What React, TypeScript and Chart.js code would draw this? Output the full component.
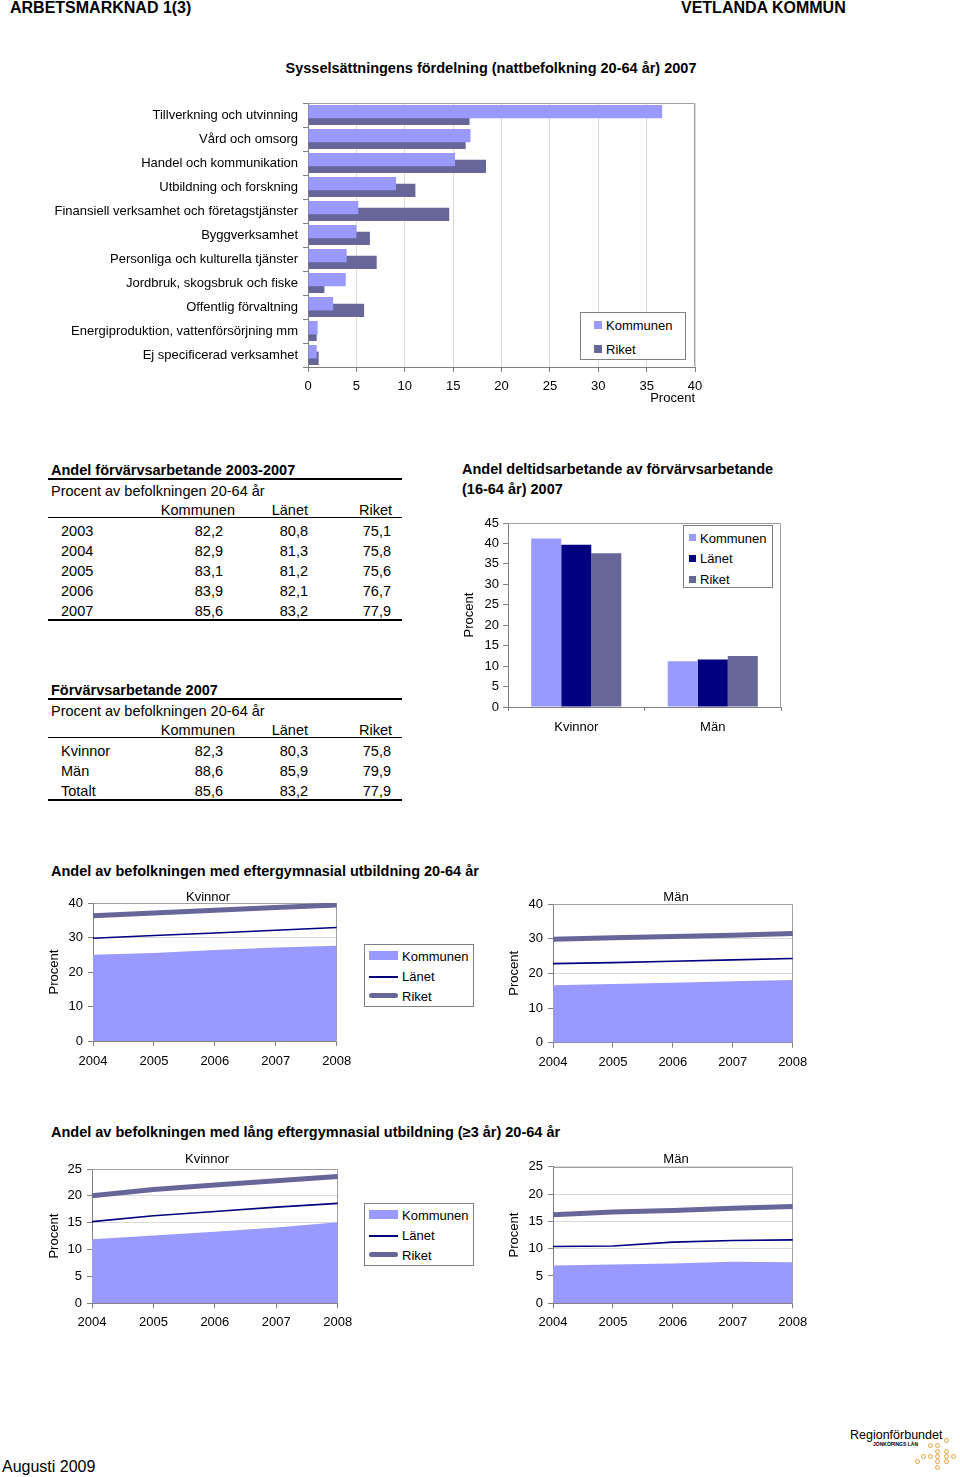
import React, { useEffect, useRef } from 'react';
import { Chart, registerables } from 'chart.js';
Chart.register(...registerables);

const FONT = '"Liberation Sans", Arial, Helvetica, sans-serif';
Chart.defaults.font.family = FONT;
Chart.defaults.font.size = 13;
Chart.defaults.color = '#000';

const C_KOMMUN = '#9999FF';
const C_LANET = '#000080';
const C_RIKET = '#666699';
const AXIS = '#808080';
const FRAME = '#a0a0a0';
const GRID = '#d9d9d9';

// ---- Sysselsättningens fördelning ----
const sectorLabels = [
  'Tillverkning och utvinning',
  'Vård och omsorg',
  'Handel och kommunikation',
  'Utbildning och forskning',
  'Finansiell verksamhet och företagstjänster',
  'Byggverksamhet',
  'Personliga och kulturella tjänster',
  'Jordbruk, skogsbruk och fiske',
  'Offentlig förvaltning',
  'Energiproduktion, vattenförsörjning mm',
  'Ej specificerad verksamhet',
];
const sectorKommunen = [36.6, 16.8, 15.2, 9.1, 5.2, 5.0, 4.0, 3.9, 2.6, 1.0, 0.9];
const sectorRiket = [16.7, 16.3, 18.4, 11.1, 14.6, 6.4, 7.1, 1.7, 5.8, 0.9, 1.1];

// ---- Tables ----
const tableYears = ['2003', '2004', '2005', '2006', '2007'];
const empKommunen = [82.2, 82.9, 83.1, 83.9, 85.6];
const empLanet = [80.8, 81.3, 81.2, 82.1, 83.2];
const empRiket = [75.1, 75.8, 75.6, 76.7, 77.9];

const genderRows = ['Kvinnor', 'Män', 'Totalt'];
const genKommunen = [82.3, 88.6, 85.6];
const genLanet = [80.3, 85.9, 83.2];
const genRiket = [75.8, 79.9, 77.9];

// ---- Deltidsarbetande ----
const partCategories = ['Kvinnor', 'Män'];
const partKommunen = [41.2, 11.2];
const partLanet = [39.7, 11.6];
const partRiket = [37.6, 12.5];

// ---- Eftergymnasial utbildning ----
const eduYears = ['2004', '2005', '2006', '2007', '2008'];
const eduWomenKommunen = [25.0, 25.5, 26.4, 27.1, 27.6];
const eduWomenLanet = [29.8, 30.6, 31.3, 32.1, 32.9];
const eduWomenRiket = [36.3, 37.1, 37.9, 38.7, 39.4];
const eduMenKommunen = [16.6, 16.9, 17.3, 17.7, 18.1];
const eduMenLanet = [22.8, 23.1, 23.5, 23.9, 24.3];
const eduMenRiket = [29.8, 30.3, 30.6, 31.0, 31.5];

// ---- Lång eftergymnasial utbildning ----
const longWomenKommunen = [11.9, 12.6, 13.3, 14.1, 15.1];
const longWomenLanet = [15.2, 16.3, 17.1, 17.9, 18.6];
const longWomenRiket = [20.0, 21.2, 22.0, 22.8, 23.6];
const longMenKommunen = [6.9, 7.1, 7.3, 7.6, 7.5];
const longMenLanet = [10.4, 10.5, 11.2, 11.5, 11.6];
const longMenRiket = [16.2, 16.7, 17.0, 17.4, 17.7];

const fmt = (v: number) => v.toFixed(1).replace('.', ',');

const fixScale = (size: number, horizontal: boolean) => (s: any) => {
  if (horizontal) s.height = size;
  else s.width = size;
  s.paddingLeft = 0;
  s.paddingRight = 0;
  s.paddingTop = 0;
  s.paddingBottom = 0;
};

const plotBorder = {
  id: 'plotBorder',
  beforeDatasetsDraw(chart: any) {
    const { ctx, chartArea } = chart;
    const l = Math.round(chartArea.left) + 0.5;
    const t = Math.round(chartArea.top) + 0.5;
    const r = Math.round(chartArea.right) - 0.5;
    const b = Math.round(chartArea.bottom) - 0.5;
    ctx.save();
    ctx.strokeStyle = FRAME;
    ctx.lineWidth = 1;
    ctx.beginPath();
    ctx.moveTo(l, t);
    ctx.lineTo(r, t);
    ctx.lineTo(r, b);
    ctx.stroke();
    ctx.restore();
  },
};

const basePlugins = { legend: { display: false }, tooltip: { enabled: false } };

const sectorConfig = (): any => ({
  type: 'bar',
  data: {
    labels: sectorLabels,
    datasets: [
      { label: 'Kommunen', data: sectorKommunen, backgroundColor: C_KOMMUN, categoryPercentage: 0.556, barPercentage: 2.0 },
      { label: 'Riket', data: sectorRiket, backgroundColor: C_RIKET, categoryPercentage: 0.556, barPercentage: 2.0 },
    ],
  },
  options: {
    indexAxis: 'y',
    responsive: false,
    animation: false,
    events: [],
    layout: { padding: { left: 0, top: 8, right: 15, bottom: 0 } },
    plugins: basePlugins,
    scales: {
      x: {
        min: 0,
        max: 40,
        ticks: { stepSize: 5, padding: 7, color: '#000' },
        grid: { color: GRID, tickColor: AXIS, tickLength: 5 },
        border: { color: AXIS },
        title: { display: true, text: 'Procent', align: 'end', color: '#000', padding: { top: 0, bottom: 4 } },
        afterFit: fixScale(43, true),
      },
      y: {
        ticks: { padding: 5, color: '#000', autoSkip: false },
        grid: { drawOnChartArea: false, tickColor: AXIS, tickLength: 5 },
        border: { color: AXIS },
        afterFit: fixScale(268, false),
      },
    },
  },
  plugins: [plotBorder],
});

const partConfig = (): any => ({
  type: 'bar',
  data: {
    labels: partCategories,
    datasets: [
      { label: 'Kommunen', data: partKommunen, backgroundColor: C_KOMMUN },
      { label: 'Länet', data: partLanet, backgroundColor: C_LANET },
      { label: 'Riket', data: partRiket, backgroundColor: C_RIKET },
    ],
  },
  options: {
    responsive: false,
    animation: false,
    events: [],
    datasets: { bar: { categoryPercentage: 0.66, barPercentage: 1.0 } },
    layout: { padding: { left: 0, top: 11, right: 9, bottom: 0 } },
    plugins: basePlugins,
    scales: {
      x: {
        ticks: { padding: 9, color: '#000' },
        grid: { drawOnChartArea: false, tickColor: AXIS, tickLength: 4 },
        border: { color: AXIS },
        afterFit: fixScale(33, true),
      },
      y: {
        min: 0,
        max: 45,
        ticks: { stepSize: 5, padding: 4, color: '#000' },
        grid: { drawOnChartArea: false, tickColor: AXIS, tickLength: 5 },
        border: { color: AXIS },
        title: { display: true, text: 'Procent', color: '#000', padding: { top: 7, bottom: 0 } },
        afterFit: fixScale(53, false),
      },
    },
  },
  plugins: [plotBorder],
});

const lineConfig = (
  kom: number[], lan: number[], rik: number[],
  max: number, step: number,
  pad: { top: number; right: number }, yW: number, xH: number, xPad: number,
): any => ({
  type: 'line',
  data: {
    labels: eduYears,
    datasets: [
      { label: 'Kommunen', data: kom, backgroundColor: C_KOMMUN, borderColor: 'rgba(0,0,0,0)', borderWidth: 0, pointRadius: 0, fill: 'origin', order: 3 },
      { label: 'Länet', data: lan, borderColor: C_LANET, borderWidth: 1.6, pointRadius: 0, fill: false, order: 2 },
      { label: 'Riket', data: rik, borderColor: C_RIKET, borderWidth: 5, pointRadius: 0, fill: false, order: 1 },
    ],
  },
  options: {
    responsive: false,
    animation: false,
    events: [],
    layout: { padding: { left: 0, top: pad.top, right: pad.right, bottom: 0 } },
    plugins: basePlugins,
    scales: {
      x: {
        offset: false,
        ticks: { padding: xPad, color: '#000', autoSkip: false, maxRotation: 0 },
        grid: { offset: false, drawOnChartArea: false, tickColor: AXIS, tickLength: 5 },
        border: { color: AXIS },
        afterFit: fixScale(xH, true),
      },
      y: {
        min: 0,
        max,
        ticks: { stepSize: step, padding: 5, color: '#000' },
        grid: { color: GRID, tickColor: AXIS, tickLength: 5 },
        border: { color: AXIS },
        title: { display: true, text: 'Procent', color: '#000', padding: { top: 7, bottom: 0 } },
        afterFit: fixScale(yW, false),
      },
    },
  },
  plugins: [plotBorder],
});

function ChartBox({ x, y, w, h, make }: { x: number; y: number; w: number; h: number; make: () => any }) {
  const ref = useRef<HTMLCanvasElement | null>(null);
  useEffect(() => {
    if (!ref.current) return;
    const chart = new Chart(ref.current, make());
    return () => chart.destroy();
  }, []);
  return (
    <canvas
      ref={ref}
      width={w}
      height={h}
      style={{ position: 'absolute', left: x, top: y, width: w, height: h }}
    />
  );
}

function Txt({ x, y, children, size = 13, bold = false, align = 'left' }: any) {
  const style: any = {
    position: 'absolute',
    top: y - size * 0.5,
    fontSize: size,
    lineHeight: `${size}px`,
    fontWeight: bold ? 'bold' : 'normal',
    whiteSpace: 'nowrap',
    color: '#000',
    fontFamily: FONT,
  };
  if (align === 'left') style.left = x;
  else if (align === 'right') style.right = 960 - x;
  else {
    style.left = x;
    style.transform = 'translateX(-50%)';
  }
  return <div style={style}>{children}</div>;
}

function HLine({ y, x1 = 48, x2 = 402, t = 1 }: any) {
  return <div style={{ position: 'absolute', left: x1, top: y - t / 2, width: x2 - x1, height: t, background: '#000' }} />;
}

function Box({ x, y, w, h }: any) {
  return <div style={{ position: 'absolute', left: x, top: y, width: w, height: h, border: `1px solid ${AXIS}`, background: '#fff', boxSizing: 'border-box' }} />;
}

function Swatch({ x, y, w, h, color, radius = 0 }: any) {
  return <div style={{ position: 'absolute', left: x, top: y, width: w, height: h, background: color, borderRadius: radius }} />;
}

function LineLegend({ top }: { top: number }) {
  return (
    <>
      <Box x={364} y={top} w={110} h={63} />
      <Swatch x={369} y={top + 7} w={29} h={9} color={C_KOMMUN} />
      <Txt x={402} y={top + 12}>Kommunen</Txt>
      <Swatch x={369} y={top + 31.5} w={29} h={2} color={C_LANET} />
      <Txt x={402} y={top + 32}>Länet</Txt>
      <Swatch x={369} y={top + 49} w={29} h={5} color={C_RIKET} radius={2.5} />
      <Txt x={402} y={top + 52}>Riket</Txt>
    </>
  );
}

const TS = 14.5;

function Table({ top, title, rows, kom, lan, rik }: any) {
  return (
    <>
      <Txt x={51} y={top} size={TS} bold>{title}</Txt>
      <HLine y={top + 8.5} t={2} />
      <Txt x={51} y={top + 21} size={TS}>Procent av befolkningen 20-64 år</Txt>
      <Txt x={235} y={top + 40} size={TS} align="right">Kommunen</Txt>
      <Txt x={308} y={top + 40} size={TS} align="right">Länet</Txt>
      <Txt x={392} y={top + 40} size={TS} align="right">Riket</Txt>
      <HLine y={top + 47.5} t={1} />
      {rows.map((r: string, i: number) => (
        <React.Fragment key={r}>
          <Txt x={61} y={top + 61 + i * 20} size={TS}>{r}</Txt>
          <Txt x={223} y={top + 61 + i * 20} size={TS} align="right">{fmt(kom[i])}</Txt>
          <Txt x={308} y={top + 61 + i * 20} size={TS} align="right">{fmt(lan[i])}</Txt>
          <Txt x={391} y={top + 61 + i * 20} size={TS} align="right">{fmt(rik[i])}</Txt>
        </React.Fragment>
      ))}
      <HLine y={top + 61 + (rows.length - 1) * 20 + 8.5} t={2} />
    </>
  );
}

const logoDots = [
  [946, 1440], [930, 1445], [937, 1445], [937, 1451], [946, 1451],
  [923, 1456], [930, 1456], [937, 1456], [946, 1456], [953, 1456],
  [917, 1461], [937, 1461], [946, 1461], [937, 1467],
];

export default function App() {
  return (
    <div style={{ position: 'absolute', left: 0, top: 0, width: 960, height: 1477, background: '#fff', overflow: 'hidden', fontFamily: FONT }}>
      <Txt x={10} y={8} size={16} bold>ARBETSMARKNAD 1(3)</Txt>
      <Txt x={681} y={8} size={16} bold>VETLANDA KOMMUN</Txt>
      <Txt x={491} y={68} size={TS} bold align="center">Sysselsättningens fördelning (nattbefolkning 20-64 år) 2007</Txt>

      <ChartBox x={40} y={95} w={670} h={315} make={sectorConfig} />
      <Box x={580} y={312} w={106} h={48} />
      <Swatch x={594} y={321} w={8} h={8} color={C_KOMMUN} />
      <Txt x={606} y={325}>Kommunen</Txt>
      <Swatch x={594} y={345} w={8} h={8} color={C_RIKET} />
      <Txt x={606} y={349}>Riket</Txt>

      <Table top={470} title="Andel förvärvsarbetande 2003-2007" rows={tableYears} kom={empKommunen} lan={empLanet} rik={empRiket} />
      <Table top={690} title="Förvärvsarbetande 2007" rows={genderRows} kom={genKommunen} lan={genLanet} rik={genRiket} />

      <Txt x={462} y={469} size={TS} bold>Andel deltidsarbetande av förvärvsarbetande</Txt>
      <Txt x={462} y={489} size={TS} bold>(16-64 år) 2007</Txt>
      <ChartBox x={455} y={512} w={335} h={228} make={partConfig} />
      <Box x={683} y={525} w={90} h={63} />
      <Swatch x={689} y={534} w={7} h={7} color={C_KOMMUN} />
      <Txt x={700} y={538}>Kommunen</Txt>
      <Swatch x={689} y={555} w={7} h={7} color={C_LANET} />
      <Txt x={700} y={558.5}>Länet</Txt>
      <Swatch x={689} y={576} w={7} h={7} color={C_RIKET} />
      <Txt x={700} y={579.5}>Riket</Txt>

      <Txt x={51} y={871} size={TS} bold>Andel av befolkningen med eftergymnasial utbildning 20-64 år</Txt>
      <ChartBox x={40} y={885} w={316} h={190}
        make={() => lineConfig(eduWomenKommunen, eduWomenLanet, eduWomenRiket, 40, 10, { top: 18, right: 19.3 }, 53, 34, 8)} />
      <ChartBox x={500} y={886} w={316} h={190}
        make={() => lineConfig(eduMenKommunen, eduMenLanet, eduMenRiket, 40, 10, { top: 18, right: 23.3 }, 53, 33.3, 7)} />
      <Txt x={208} y={896} align="center">Kvinnor</Txt>
      <Txt x={676} y={896} align="center">Män</Txt>
      <LineLegend top={944} />

      <Txt x={51} y={1132} size={TS} bold>Andel av befolkningen med lång eftergymnasial utbildning (≥3 år) 20-64 år</Txt>
      <ChartBox x={40} y={1150} w={316} h={190}
        make={() => lineConfig(longWomenKommunen, longWomenLanet, longWomenRiket, 25, 5, { top: 19, right: 18.3 }, 52, 36.7, 6)} />
      <ChartBox x={500} y={1150} w={316} h={190}
        make={() => lineConfig(longMenKommunen, longMenLanet, longMenRiket, 25, 5, { top: 16.7, right: 23.3 }, 53, 36.7, 6)} />
      <Txt x={207} y={1158} align="center">Kvinnor</Txt>
      <Txt x={676} y={1158} align="center">Män</Txt>
      <LineLegend top={1203} />

      <Txt x={2} y={1467} size={16}>Augusti 2009</Txt>
      <Txt x={850} y={1435} size={12.5}>Regionförbundet</Txt>
      <Txt x={873} y={1444} size={5} bold>JÖNKÖPINGS LÄN</Txt>
      {logoDots.map(([dx, dy], i) => (
        <div key={i} style={{ position: 'absolute', left: dx - 2.5, top: dy - 2.5, width: 5, height: 5, borderRadius: 3, border: '1.2px solid #e5a33b', boxSizing: 'border-box' }} />
      ))}
    </div>
  );
}
